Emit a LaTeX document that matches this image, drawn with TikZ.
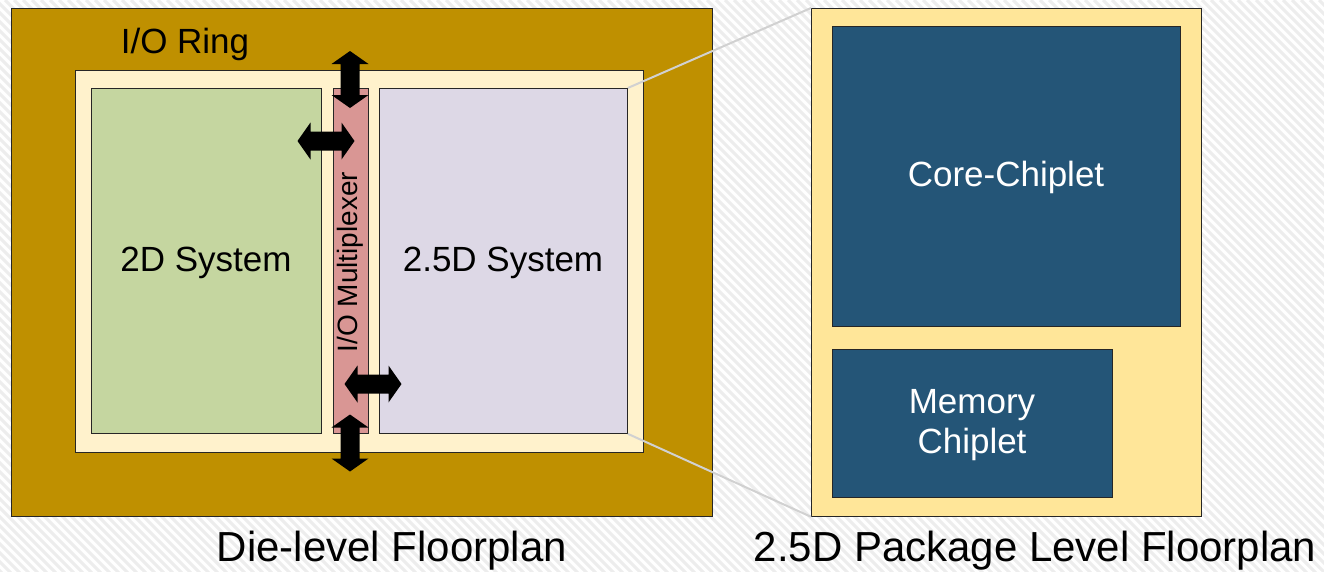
\documentclass[tikz,border=0pt]{standalone}
\usepackage{fontspec}
\setmainfont{Liberation Sans}
\definecolor{ringgold}{HTML}{BF9000}
\definecolor{corecream}{HTML}{FFF2CC}
\definecolor{sysgreen}{HTML}{C5D6A0}
\definecolor{muxrose}{HTML}{D99694}
\definecolor{syslav}{HTML}{DDD8E6}
\definecolor{pkgyellow}{HTML}{FFE699}
\definecolor{chipblue}{HTML}{245577}
\begin{document}
\begin{tikzpicture}[x=1pt,y=-1pt,
  box/.style={draw=black!85, line width=0.8pt, inner sep=0pt, anchor=north west},
  lbl/.style={anchor=base, text=black, inner sep=0pt, font=\fontsize{35}{40}\selectfont},
  caption/.style={anchor=base, text=black, inner sep=0pt, font=\fontsize{42}{48}\selectfont},
  stripe/.style={draw=black!7, line width=3pt},
  link/.style={draw=black!18, line width=2pt},
  dblarrow/.pic={
    \fill[black] (-28.5,0) -- (-15.5,-18.5) -- (-15.5,-9.5) -- (15.5,-9.5) -- (15.5,-18.5)
      -- (28.5,0) -- (15.5,18.5) -- (15.5,9.5) -- (-15.5,9.5) -- (-15.5,18.5) -- cycle;
  }]
\useasboundingbox (0,0) rectangle (1324,571);
% hatched backdrop
\fill[white] (0,0) rectangle (1324,571);
\begin{scope}
  \clip (0,0) rectangle (1324,571);
  \foreach \i in {-580,-571,...,1330} \draw[stripe] (\i,0) -- ++(580,580);
\end{scope}

% die-level floorplan
\node[box, fill=ringgold, minimum width=701pt, minimum height=508pt] (ring) at (11,8) {};
\node[box, fill=corecream, minimum width=568pt, minimum height=382pt] (core) at (75,70) {};
\node[box, fill=sysgreen, minimum width=230pt, minimum height=345pt] (sys2d) at (91,88) {};
\node[box, fill=muxrose, minimum width=35pt, minimum height=345pt] (mux) at (333,88) {};
\node[box, fill=syslav, minimum width=248pt, minimum height=345pt] (sys25) at (379,88) {};

% package-level floorplan
\node[box, fill=pkgyellow, minimum width=390pt, minimum height=508pt] (pkg) at (811,8) {};
\node[box, fill=chipblue, minimum width=348pt, minimum height=300pt] (corechip) at (832,26) {};
\node[box, fill=chipblue, minimum width=280pt, minimum height=148pt] (memchip) at (832,349) {};

% zoom lines from the 2.5D system to the package view
\draw[link] (sys25.north east) -- (pkg.north west);
\draw[link] (sys25.south east) -- (pkg.south west);

% labels
\node[lbl] (ringlbl) at (185,53) {I/O Ring};
\node[lbl] (lbl2d) at (206,271) {2D System};
\node[lbl] (lbl25) at (503,271) {2.5D System};
\node[lbl, rotate=90, font=\fontsize{28}{32}\selectfont] (muxlbl) at (357,262) {I/O Multiplexer};
\node[lbl, text=white] (corelbl) at (1006,186) {Core-Chiplet};
\node[lbl, text=white] (memlbla) at (972,413) {Memory};
\node[lbl, text=white] (memlblb) at (972,453) {Chiplet};
\node[caption] (dielbl) at (392,561) {Die-level Floorplan};
\node[caption] (pkglbl) at (1035,561) {2.5D Package Level Floorplan};

% I/O arrows
\pic[rotate=90] (arrtop) at (350,79.5) {dblarrow};
\pic (arrleft) at (326,141) {dblarrow};
\pic (arrright) at (373,384) {dblarrow};
\pic[rotate=90] (arrbot) at (350,443) {dblarrow};
\end{tikzpicture}
\end{document}
